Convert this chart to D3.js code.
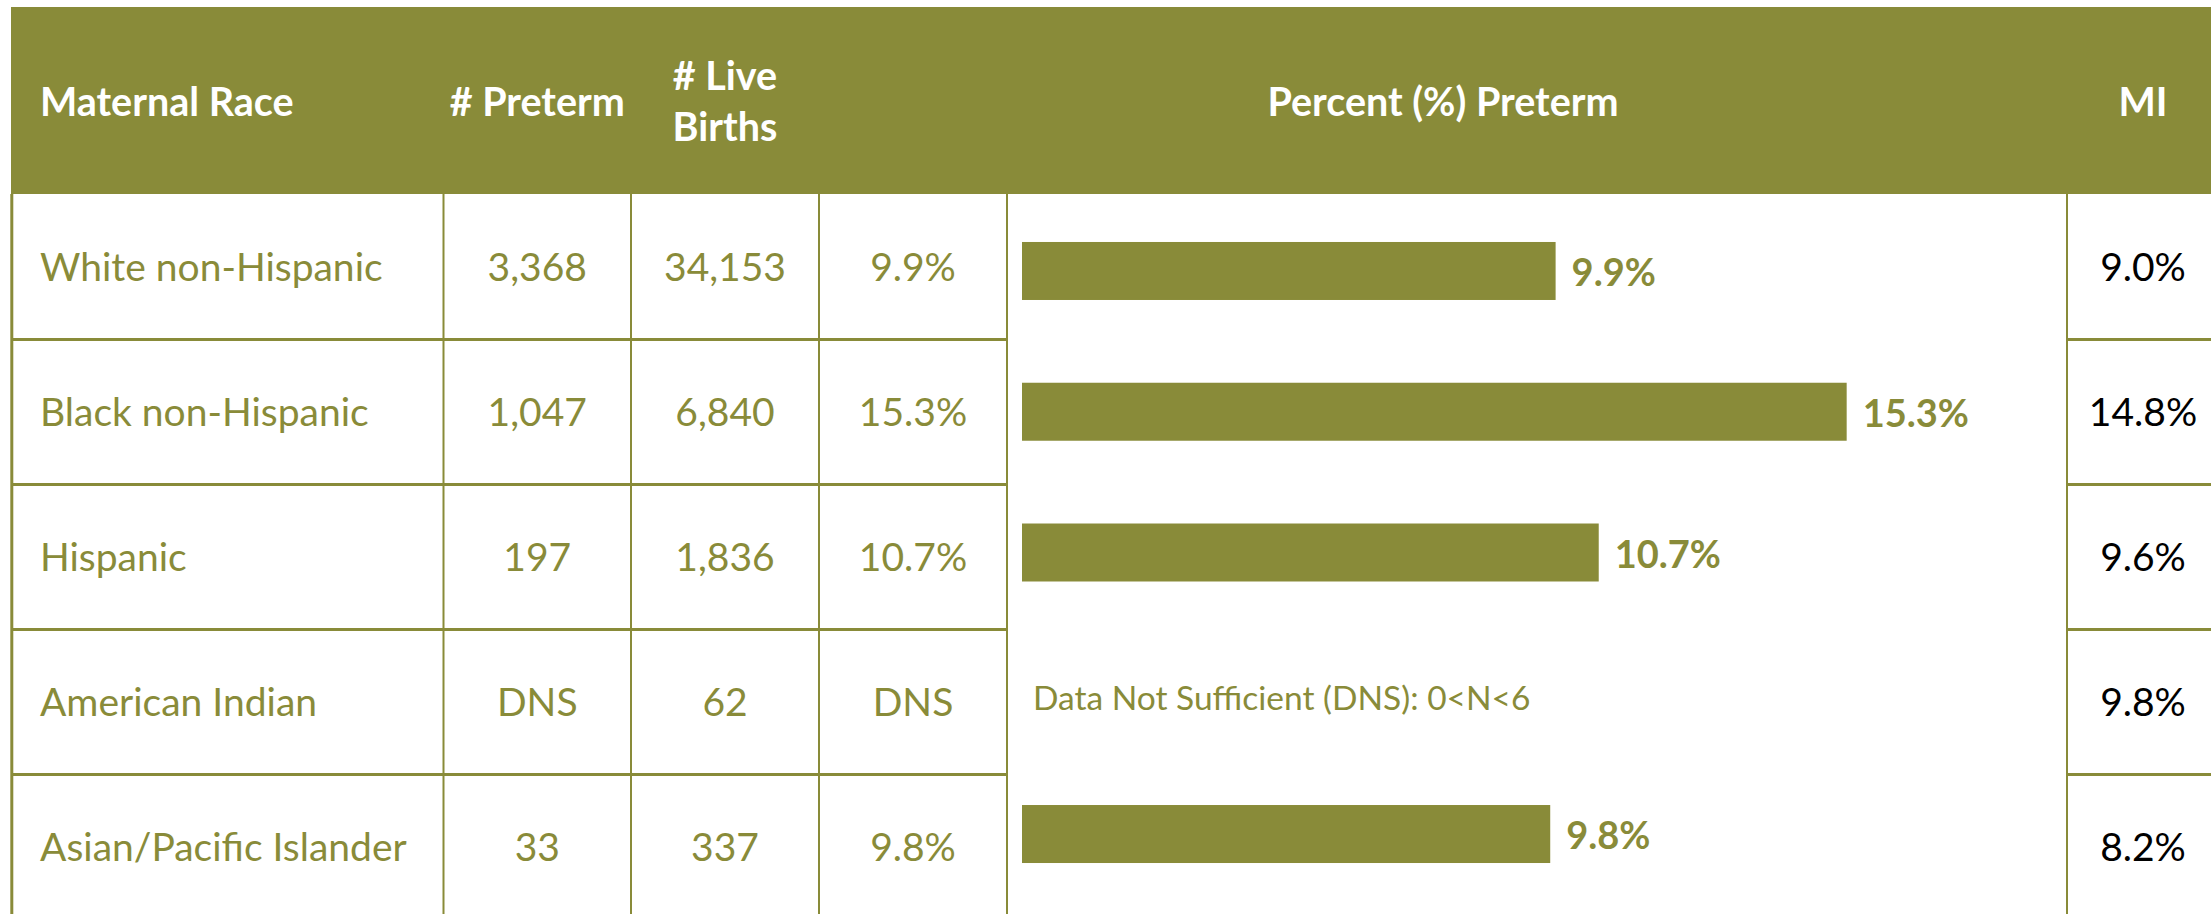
<!DOCTYPE html>
<html>
<head>
<meta charset="utf-8">
<script src="https://cdn.jsdelivr.net/npm/d3@7"></script>
<style>
  body { margin: 0; background: #fff; }
  svg { display: block; font-family: Lato, "Open Sans", sans-serif; }
</style>
</head>
<body>
<svg id="chart" width="2211" height="914"></svg>
<script>
// table data
var races = ["White non-Hispanic", "Black non-Hispanic", "Hispanic", "American Indian", "Asian/Pacific Islander"];
var pretermCounts = [3368, 1047, 197, null, 33];
var liveBirths = [34153, 6840, 1836, 62, 337];
var pctPreterm = [9.9, 15.3, 10.7, null, 9.8];
var miPct = [9.0, 14.8, 9.6, 9.8, 8.2];
var headerLabels = ["Maternal Race", "# Preterm", ["# Live", "Births"], "Percent (%) Preterm", "MI"];
var dnsNote = "Data Not Sufficient (DNS): 0<N<6";

var olive = "#898B39";
var W = 2211, H = 914;
var headTop = 7, headBottom = 194;
// column edges: race | preterm | births | pct | bar chart | MI
var colX = [11, 443.5, 631, 819, 1007, 2067, 2219];
var fmtCount = d3.format(",");
var fmtPct = d3.format(".1f");

var svg = d3.select("#chart");

var rowY = d3.scaleBand()
    .domain(races)
    .range([headBottom, headBottom + 145 * races.length]);

var barY = d3.scaleBand()
    .domain(races)
    .range([200.6, 904.4])
    .paddingInner(0.588)
    .paddingOuter(0.294);

var x = d3.scaleLinear()
    .domain([0, 20])
    .range([1022, 1022 + 20 * 53.9]);

// header band
svg.append("rect")
    .attr("x", colX[0]).attr("y", headTop)
    .attr("width", W - colX[0]).attr("height", headBottom - headTop)
    .attr("fill", olive);

var head = svg.append("g")
    .attr("fill", "#fff")
    .attr("font-weight", 700)
    .attr("font-size", "39.5px");

var hy = 116;
head.append("text").attr("x", 40).attr("y", hy).text(headerLabels[0]);
head.append("text").attr("x", (colX[1] + colX[2]) / 2).attr("y", hy)
    .attr("text-anchor", "middle").text(headerLabels[1]);
head.append("text").attr("text-anchor", "middle")
    .selectAll("tspan")
    .data(headerLabels[2])
    .enter().append("tspan")
    .attr("x", (colX[2] + colX[3]) / 2)
    .attr("y", (d, i) => 90 + i * 50.5)
    .text(d => d);
head.append("text").attr("x", (colX[3] + colX[5]) / 2).attr("y", hy)
    .attr("text-anchor", "middle").text(headerLabels[3]);
head.append("text").attr("x", (colX[5] + colX[6]) / 2).attr("y", hy)
    .attr("text-anchor", "middle").text(headerLabels[4]);

// grid lines
var grid = svg.append("g").attr("stroke", olive);
races.slice(1).forEach(r => {
    var yy = rowY(r) + 0.5;
    grid.append("line").attr("x1", colX[0]).attr("x2", colX[4]).attr("y1", yy).attr("y2", yy).attr("stroke-width", 3);
    grid.append("line").attr("x1", colX[5]).attr("x2", W).attr("y1", yy).attr("y2", yy).attr("stroke-width", 3);
});
grid.append("line").attr("x1", colX[0] + 0.8).attr("x2", colX[0] + 0.8)
    .attr("y1", headBottom).attr("y2", H).attr("stroke-width", 3);
[1, 2, 3, 4, 5].forEach(i => {
    grid.append("line").attr("x1", colX[i]).attr("x2", colX[i])
        .attr("y1", headBottom).attr("y2", H).attr("stroke-width", 2);
});

// body cells
var rows = svg.append("g").selectAll("g")
    .data(races)
    .enter().append("g")
    .attr("transform", d => "translate(0," + (rowY(d) + rowY.bandwidth() / 2 + 14) + ")")
    .attr("font-size", "39px");

rows.append("text").attr("x", 40).attr("fill", olive).text(d => d);
rows.append("text").attr("x", (colX[1] + colX[2]) / 2).attr("text-anchor", "middle").attr("fill", olive)
    .text((d, i) => pretermCounts[i] == null ? "DNS" : fmtCount(pretermCounts[i]));
rows.append("text").attr("x", (colX[2] + colX[3]) / 2).attr("text-anchor", "middle").attr("fill", olive)
    .text((d, i) => fmtCount(liveBirths[i]));
rows.append("text").attr("x", (colX[3] + colX[4]) / 2).attr("text-anchor", "middle").attr("fill", olive)
    .text((d, i) => pctPreterm[i] == null ? "DNS" : fmtPct(pctPreterm[i]) + "%");
rows.append("text").attr("x", (colX[5] + colX[6]) / 2).attr("text-anchor", "middle").attr("fill", "#000")
    .text((d, i) => fmtPct(miPct[i]) + "%");

// bars
var barData = races.map((r, i) => ({race: r, value: pctPreterm[i]}));

svg.append("g").selectAll("rect")
    .data(barData.filter(d => d.value != null))
    .enter().append("rect")
    .attr("x", x(0))
    .attr("y", d => barY(d.race))
    .attr("width", d => x(d.value) - x(0))
    .attr("height", barY.bandwidth())
    .attr("fill", olive);

svg.append("g").selectAll("text")
    .data(barData.filter(d => d.value != null))
    .enter().append("text")
    .attr("x", d => x(d.value) + 16)
    .attr("y", d => barY(d.race) + barY.bandwidth() / 2 + 15)
    .attr("fill", olive)
    .attr("font-weight", 700)
    .attr("font-size", "38px")
    .text(d => fmtPct(d.value) + "%");

barData.filter(d => d.value == null).forEach(d => {
    svg.append("text")
        .attr("x", 1033)
        .attr("y", barY(d.race) + barY.bandwidth() / 2 + 17)
        .attr("fill", olive)
        .attr("font-size", "33.5px")
        .text(dnsNote);
});
</script>
</body>
</html>
